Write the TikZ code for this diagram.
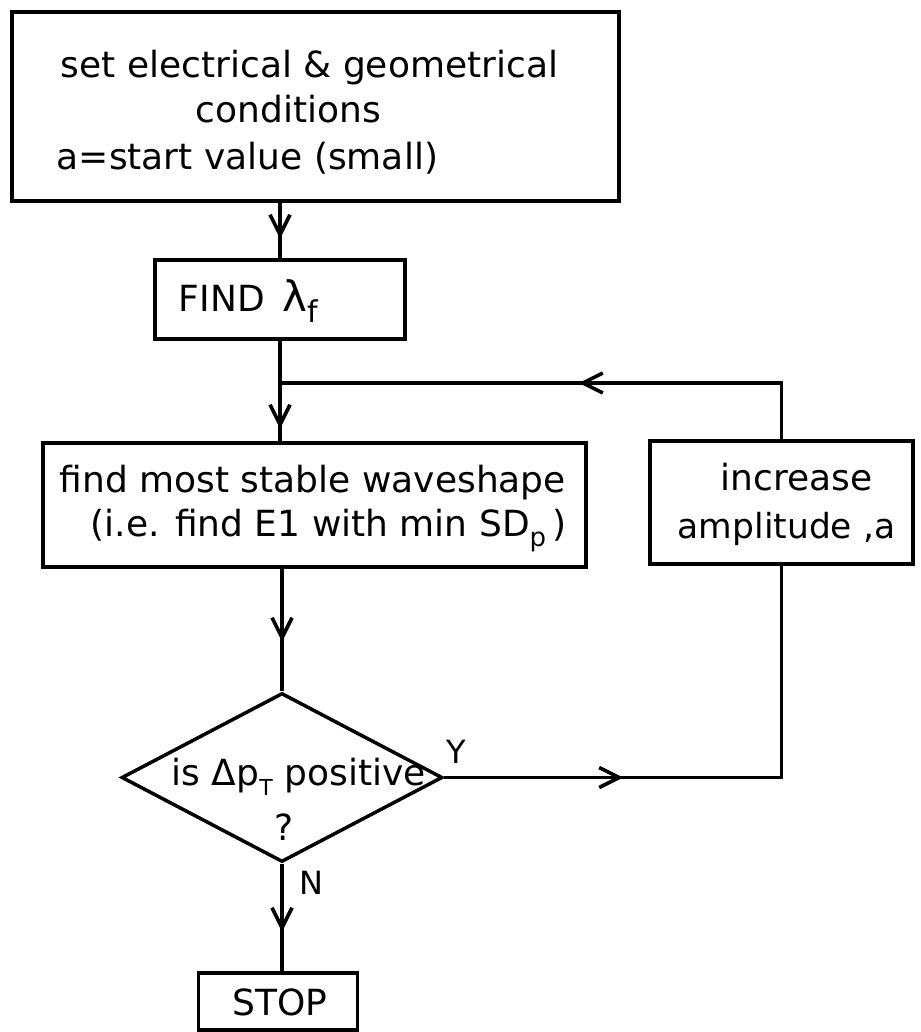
\documentclass[tikz,border=0pt]{standalone}
\usepackage{fontspec}
\setmainfont{DejaVu Sans}
\usetikzlibrary{arrows.meta,decorations.markings,shapes.geometric}
\begin{document}
\begin{tikzpicture}[x=1pt,y=-1pt,
  line width=3.6pt,
  box/.style={draw, rectangle, inner sep=0pt, line width=3.5pt},
  txt/.style={inner sep=0pt, anchor=base west, font=\fontsize{36}{40}\selectfont},
  lbl/.style={inner sep=0pt, font=\fontsize{32}{32}\selectfont},
  midarrow/.style={postaction={decorate}, decoration={markings, mark=at position #1 with {\arrow{Straight Barb[length=20pt,width=20pt]}}}},
]
\useasboundingbox (0,0) rectangle (920,1032);

% boxes
\node[box, minimum width=607pt, minimum height=189pt] (start) at (315.5,106.5) {};
\node[box, minimum width=250pt, minimum height=79pt] (findl) at (280,299.5) {};
\node[box, minimum width=543pt, minimum height=124pt] (wave) at (314.5,505) {};
\node[box, minimum width=263pt, minimum height=123pt] (inc) at (781.5,502.5) {};
\node[draw, diamond, inner sep=0pt, minimum width=321pt, minimum height=169pt, line width=3.5pt] (dia) at (282,777.5) {};
\node[box, minimum width=159pt, minimum height=57pt] (stop) at (278,1001.5) {};

% texts
\node[txt] (t1) at (59,78) {set electrical \& geometrical};
\node[txt] (t2) at (194,123) {conditions};
\node[txt] (t3) at (55,170) {a=start value (small)};
\node[txt] (tf) at (177,311) {FIND\hspace{0.5em}{\fontsize{42}{42}\selectfont λ}\raisebox{-0.32em}{\fontsize{30}{30}\selectfont f}};
\node[txt] (w1) at (58,492) {find most stable waveshape};
\node[txt] (w2) at (89,536) {(i.e. find E1 with min SD\raisebox{-0.3em}{\fontsize{26}{26}\selectfont p}\,)};
\node[txt] (i1) at (719,490) {increase};
\node[txt, font=\fontsize{34.5}{38}\selectfont] (i2) at (676,538) {amplitude ,a};
\node[txt] (d1) at (170,785) {is Δp\raisebox{-0.3em}{\fontsize{22}{22}\selectfont T} positive};
\node[txt, anchor=base] (d2) at (284,840) {?};
\node[txt, anchor=base] (st) at (280,1015) {STOP};
\node[lbl] (ly) at (456,752) {Y};
\node[lbl] (ln) at (311,883) {N};

% connectors
\coordinate (join) at (280,383);
\draw[midarrow=36pt] (findl.north |- start.south) -- (findl.north);
\draw[midarrow=88pt] (findl.south) -- (findl.south |- wave.north);
\draw[midarrow=73pt] (dia.north |- wave.south) -- (dia.north);
\draw[midarrow=68pt] (dia.south) -- (dia.south |- stop.north);
\draw[midarrow=179pt] (dia.east) -| (inc.south);
\draw[midarrow=259pt] (inc.north) |- (join);
\end{tikzpicture}
\end{document}
